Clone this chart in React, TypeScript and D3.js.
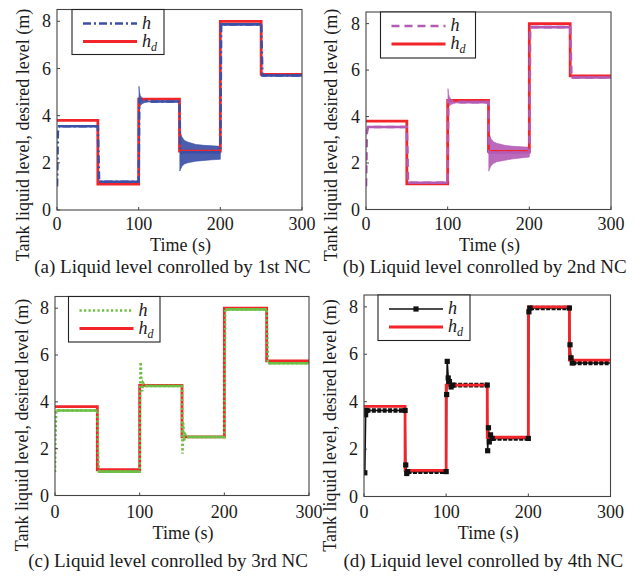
import React from 'react';
import * as d3 from 'd3';

// ---------- data ----------
const stepTimes = [0, 50, 100, 150, 200, 250, 300];
const desiredLevels = [3.8, 1.1, 4.7, 2.5, 8.0, 5.75];

const xTicks = [0, 100, 200, 300];
const yTicks = [0, 2, 4, 6, 8];

const captions = [
  '(a) Liquid level conrolled by 1st NC',
  '(b) Liquid level conrolled by 2nd NC',
  '(c) Liquid level conrolled by 3rd NC',
  '(d) Liquid level conrolled by 4th NC',
];

// (a) 1st NC
const h1Time = [0, 1, 2.5, 50, 51.5, 100, 100.8, 115, 150, 150.8, 200, 201, 250, 251.5, 300];
const h1Level = [1.0, 3.3, 3.55, 3.55, 1.2, 1.2, 4.7, 4.6, 4.6, 2.45, 2.45, 7.87, 7.87, 5.7, 5.7];
const h1BandTime = [[100.4, 101, 102, 104, 107, 110, 115], [150.4, 151, 153, 156, 160, 170, 180, 190, 200]];
const h1BandUpper = [[5.25, 5.0, 4.85, 4.75, 4.68, 4.64, 4.61], [3.4, 3.3, 3.1, 2.95, 2.88, 2.78, 2.74, 2.72, 2.7]];
const h1BandLower = [[4.3, 4.35, 4.42, 4.5, 4.55, 4.57, 4.59], [1.65, 1.7, 1.85, 1.95, 2.0, 2.07, 2.1, 2.13, 2.15]];

// (b) 2nd NC
const h2Time = [0, 1, 2.5, 50, 51.5, 100, 100.8, 115, 150, 150.8, 200, 201, 250, 251.5, 300];
const h2Level = [1.0, 3.3, 3.55, 3.55, 1.15, 1.15, 4.7, 4.62, 4.62, 2.45, 2.45, 7.85, 7.85, 5.68, 5.68];
const h2BandTime = [[100.4, 101, 102, 104, 107, 110, 115], [150.4, 151, 153, 156, 160, 170, 180, 190, 200]];
const h2BandUpper = [[5.2, 4.98, 4.85, 4.75, 4.7, 4.66, 4.63], [3.35, 3.25, 3.05, 2.92, 2.85, 2.76, 2.72, 2.7, 2.68]];
const h2BandLower = [[4.35, 4.4, 4.45, 4.52, 4.56, 4.58, 4.6], [1.65, 1.72, 1.88, 1.98, 2.05, 2.12, 2.18, 2.22, 2.26]];

// (c) 3rd NC
const h3Time = [0, 0.5, 1.5, 50, 51, 52, 100, 100.6, 101.2, 102, 103, 104, 106, 150, 150.6, 151.4, 152.4, 154, 156, 200, 201, 250, 251.5, 300];
const h3Level = [1.0, 2.5, 3.63, 3.63, 1.5, 1.02, 1.02, 4.4, 5.7, 4.9, 4.45, 4.8, 4.68, 4.68, 1.78, 3.1, 2.35, 2.6, 2.5, 2.5, 7.95, 7.95, 5.65, 5.65];

// (d) 4th NC
const h4Time = [0, 1, 2, 3, 50, 50.8, 52, 53, 100, 100.6, 101.3, 102.5, 104, 106, 108, 150, 150.5, 151.5, 152.5, 154, 156, 200, 200.7, 202, 250, 250.7, 252, 253.5, 300];
const h4Level = [1.0, 1.0, 3.45, 3.63, 3.63, 1.33, 0.97, 1.05, 1.05, 4.3, 5.7, 5.0, 4.85, 4.62, 4.7, 4.7, 1.93, 2.9, 2.3, 2.6, 2.45, 2.45, 7.79, 7.95, 7.95, 6.4, 5.85, 5.63, 5.63];

// ---------- styles / layout ----------
const FONT = "'Liberation Serif', 'Times New Roman', serif";
const RED = '#f2252a';
const FRAME = '#444';
const TEXT = '#1a1a1a';

type Series = {
  time: number[];
  level: number[];
  color: string;
  width: number;
  dash?: string;
  bandTime?: number[][];
  bandUpper?: number[][];
  bandLower?: number[][];
  markers?: boolean;
};

const panelLayouts = [
  { left: 57, right: 302, top: 9.5, bottom: 210, legend: [72, 9.5, 92, 45], ylabelX: 23, ylabelY: 135, capX: 172.5, timeBase: 251, capBase: 273, tickBase: 230 },
  { left: 366, right: 611, top: 12, bottom: 209.5, legend: [380.5, 12, 95, 46], ylabelX: 331, ylabelY: 135, capX: 484.7, timeBase: 251, capBase: 273, tickBase: 230 },
  { left: 55, right: 309, top: 296.5, bottom: 495.5, legend: [68.5, 296.5, 91.5, 45.5], ylabelX: 22, ylabelY: 425, capX: 168, timeBase: 539, capBase: 567, tickBase: 518 },
  { left: 364, right: 610.5, top: 295, bottom: 496.5, legend: [378, 295, 92, 45.5], ylabelX: 330, ylabelY: 425.5, capX: 483.3, timeBase: 539, capBase: 567, tickBase: 518 },
];

const seriesList: Series[] = [
  { time: h1Time, level: h1Level, color: '#3b50a6', width: 2.6, dash: '8 3 2 3', bandTime: h1BandTime, bandUpper: h1BandUpper, bandLower: h1BandLower },
  { time: h2Time, level: h2Level, color: '#b45cb5', width: 2.6, dash: '8 5', bandTime: h2BandTime, bandUpper: h2BandUpper, bandLower: h2BandLower },
  { time: h3Time, level: h3Level, color: '#6cbf44', width: 2.6, dash: '2.2 2.3' },
  { time: h4Time, level: h4Level, color: '#111', width: 1.6, markers: true },
];

function Panel({ idx }: { idx: number }) {
  const L = panelLayouts[idx];
  const s = seriesList[idx];
  const x = d3.scaleLinear().domain([0, 300]).range([L.left, L.right]);
  const y = d3.scaleLinear().domain([0, 8.5]).range([L.bottom, L.top]);

  const hdPts: [number, number][] = stepTimes.map((t, i) => [t, desiredLevels[Math.min(i, desiredLevels.length - 1)]]);
  const stepLine = d3.line<[number, number]>().x(d => x(d[0])).y(d => y(d[1])).curve(d3.curveStepAfter);
  const line = d3.line<[number, number]>().x(d => x(d[0])).y(d => y(d[1]));
  const hPts: [number, number][] = s.time.map((t, i) => [t, s.level[i]]);

  const bands = (s.bandTime || []).map((bt, bi) => {
    const pts = bt.map((t, i) => ({ t, u: s.bandUpper![bi][i], l: s.bandLower![bi][i] }));
    return d3.area<{ t: number; u: number; l: number }>()
      .x(d => x(d.t)).y0(d => y(d.l)).y1(d => y(d.u))(pts) || '';
  });

  // flat runs (steady state parts of h)
  const flats: [number, number][][] = [];
  for (let i = 0; i < hPts.length - 1; i++) {
    if (hPts[i][1] === hPts[i + 1][1] && hPts[i + 1][0] - hPts[i][0] > 5) flats.push([hPts[i], hPts[i + 1]]);
  }

  const [lx, ly, lw, lh] = L.legend;
  const row1 = ly + 14;
  const row2 = ly + 32;
  const lineX0 = lx + 11;
  const lineX1 = lx + 65;

  const clipId = `clip${idx}`;
  return (
    <g>
      <defs>
        <clipPath id={clipId}>
          <rect x={L.left} y={L.top} width={L.right - L.left} height={L.bottom - L.top} />
        </clipPath>
      </defs>
      <rect x={L.left} y={L.top} width={L.right - L.left} height={L.bottom - L.top} fill="#fff" />
      <g clipPath={`url(#${clipId})`}>
        {bands.map((d, i) => (
          <path key={i} d={d} fill={s.color} fillOpacity={0.92} stroke={s.color} strokeWidth={0.6} />
        ))}
        {s.markers && flats.map((f, i) => (
          <path key={'f' + i} d={line(f) || ''} fill="none" stroke="#111" strokeWidth={4.6} strokeDasharray="4 1.4" />
        ))}
        {s.markers && <path d={line(hPts) || ''} fill="none" stroke={s.color} strokeWidth={s.width} />}
        <path d={stepLine(hdPts) || ''} fill="none" stroke={RED} strokeWidth={2.8} strokeLinejoin="miter" />
        {!s.markers && (
          <path d={line(hPts) || ''} fill="none" stroke={s.color} strokeWidth={s.width} strokeDasharray={s.dash} />
        )}
        {!s.markers && flats.map((f, i) => (
          <path key={'s' + i} d={line(f) || ''} fill="none" stroke={s.color} strokeWidth={s.width} />
        ))}
        {s.markers && hPts.filter((p, i) => i > 0 && i < hPts.length - 1 && (hPts[i - 1][1] !== p[1] || hPts[i + 1][1] !== p[1])).map((p, i) => (
          <rect key={'m' + i} x={x(p[0]) - 2.6} y={y(p[1]) - 2.6} width={5.2} height={5.2} fill="#111" />
        ))}
      </g>
      {/* frame */}
      <rect x={L.left} y={L.top} width={L.right - L.left} height={L.bottom - L.top} fill="none" stroke={FRAME} strokeWidth={1.1} />
      {/* ticks */}
      {xTicks.map(t => (
        <g key={'x' + t}>
          <line x1={x(t)} x2={x(t)} y1={L.bottom} y2={L.bottom - 3} stroke={FRAME} strokeWidth={1} />
          <text x={x(t)} y={L.tickBase} textAnchor="middle" fontSize={18} fontFamily={FONT} fill={TEXT}>{t}</text>
        </g>
      ))}
      {yTicks.map(t => (
        <g key={'y' + t}>
          <line x1={L.left} x2={L.left + 3} y1={y(t)} y2={y(t)} stroke={FRAME} strokeWidth={1} />
          <text x={L.left - 6} y={y(t)} dy="0.34em" textAnchor="end" fontSize={18} fontFamily={FONT} fill={TEXT}>{t}</text>
        </g>
      ))}
      {/* labels */}
      <text x={(L.left + L.right) / 2 + 1} y={L.timeBase} textAnchor="middle" fontSize={18} fontFamily={FONT} fill={TEXT}>Time (s)</text>
      <text transform={`translate(${L.ylabelX + 6},${L.ylabelY}) rotate(-90)`} textAnchor="middle" fontSize={18} fontFamily={FONT} fill={TEXT}>
        Tank liquid level, desired level (m)
      </text>
      <text x={L.capX} y={L.capBase} textAnchor="middle" fontSize={19} fontFamily={FONT} fill={TEXT}>{captions[idx]}</text>
      {/* legend */}
      <rect x={lx} y={ly} width={lw} height={lh} fill="#fff" stroke="#222" strokeWidth={1.1} />
      {s.markers ? (
        <g>
          <line x1={lineX0} x2={lineX1} y1={row1} y2={row1} stroke="#111" strokeWidth={1.6} />
          <rect x={(lineX0 + lineX1) / 2 - 2.6} y={row1 - 2.6} width={5.2} height={5.2} fill="#111" />
        </g>
      ) : (
        <line x1={lineX0} x2={lineX1} y1={row1} y2={row1} stroke={s.color} strokeWidth={s.width} strokeDasharray={s.dash} />
      )}
      <line x1={lineX0} x2={lineX1} y1={row2} y2={row2} stroke={RED} strokeWidth={2.8} />
      <text x={lineX1 + 5} y={row1 + 5} fontSize={18} fontStyle="italic" fontFamily={FONT} fill={TEXT}>h</text>
      <text x={lineX1 + 5} y={row2 + 5} fontSize={18} fontStyle="italic" fontFamily={FONT} fill={TEXT}>
        h<tspan fontSize={12} dy={4}>d</tspan>
      </text>
    </g>
  );
}

export default function App() {
  return (
    <svg width={636} height={577} style={{ position: 'absolute', left: 0, top: 0, background: '#fff' }}>
      <rect width={636} height={577} fill="#fff" />
      {[0, 1, 2, 3].map(i => <Panel key={i} idx={i} />)}
    </svg>
  );
}
